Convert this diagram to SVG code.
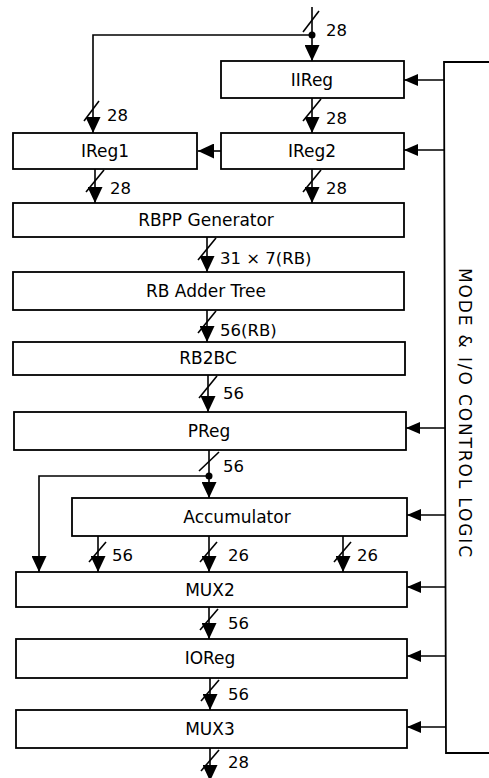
<svg xmlns="http://www.w3.org/2000/svg" width="489" height="778" viewBox="0 0 489 778">
<style>
.box{fill:#fff;stroke:#000;stroke-width:1.8}
.bt{font-family:"DejaVu Sans",sans-serif;font-size:17px;text-anchor:middle;fill:#000}
.lb{font-family:"DejaVu Sans",sans-serif;font-size:16.5px;fill:#000}
.ln{fill:none;stroke:#000;stroke-width:1.6}
.dn{fill:none;stroke:#000;stroke-width:1.6;marker-end:url(#ad)}
.ct{fill:none;stroke:#000;stroke-width:1.6;marker-end:url(#ac)}
.sl{stroke:#000;stroke-width:1.6}
</style>
<defs>
<marker id="ad" markerUnits="userSpaceOnUse" markerWidth="16" markerHeight="15" viewBox="0 -7.5 16 15" refX="16" refY="0" orient="auto">
<path d="M0,-7.5 L16,0 L0,7.5 z" fill="#000"/>
</marker>
<marker id="ac" markerUnits="userSpaceOnUse" markerWidth="14" markerHeight="12" viewBox="0 -6 14 12" refX="14" refY="0" orient="auto">
<path d="M0,-6 L14,0 L0,6 z" fill="#000"/>
</marker>
</defs>
<rect width="489" height="778" fill="#fff"/>

<g id="connectors">
<!-- top input -->
<line class="dn" x1="312" y1="7" x2="312" y2="61"/>
<line class="sl" x1="303" y1="32" x2="319" y2="11"/>
<circle cx="312" cy="35" r="3.5" fill="#000"/>
<text class="lb" x="326" y="36">28</text>
<path class="dn" d="M312,35 H93 V133"/>
<line class="sl" x1="84" y1="121" x2="99" y2="101"/>
<text class="lb" x="107" y="121">28</text>
<!-- IIReg -> IReg2 -->
<line class="dn" x1="312" y1="98" x2="312" y2="133"/>
<line class="sl" x1="303" y1="121" x2="321" y2="99"/>
<text class="lb" x="326" y="124">28</text>
<!-- IReg2 -> IReg1 -->
<line class="dn" x1="221" y1="151" x2="198" y2="151"/>
<!-- IReg1 -> RBPP -->
<line class="dn" x1="95" y1="169" x2="95" y2="203"/>
<line class="sl" x1="86" y1="192" x2="104" y2="170"/>
<text class="lb" x="110" y="194">28</text>
<!-- IReg2 -> RBPP -->
<line class="dn" x1="312" y1="169" x2="312" y2="203"/>
<line class="sl" x1="303" y1="192" x2="321" y2="170"/>
<text class="lb" x="326" y="194">28</text>
<!-- RBPP -> RB Adder -->
<line class="dn" x1="207" y1="237" x2="207" y2="272"/>
<line class="sl" x1="198" y1="260" x2="216" y2="238"/>
<text class="lb" x="220" y="264">31 × 7(RB)</text>
<!-- RB Adder -> RB2BC -->
<line class="dn" x1="207" y1="310" x2="207" y2="342"/>
<line class="sl" x1="198" y1="333" x2="216" y2="311"/>
<text class="lb" x="220" y="336">56(RB)</text>
<!-- RB2BC -> PReg -->
<line class="dn" x1="208" y1="375" x2="208" y2="412"/>
<line class="sl" x1="199" y1="398" x2="217" y2="376"/>
<text class="lb" x="223" y="399">56</text>
<!-- PReg -> Accumulator -->
<line class="dn" x1="209" y1="450" x2="209" y2="498"/>
<line class="sl" x1="199" y1="471" x2="219" y2="452"/>
<circle cx="209" cy="476" r="3.5" fill="#000"/>
<text class="lb" x="223" y="472">56</text>
<path class="dn" d="M209,476 H39 V572"/>
<!-- Accumulator -> MUX2 -->
<line class="dn" x1="98" y1="536" x2="98" y2="572"/>
<line class="sl" x1="89" y1="562" x2="106" y2="542"/>
<text class="lb" x="112" y="561">56</text>
<line class="dn" x1="209" y1="536" x2="209" y2="572"/>
<line class="sl" x1="200" y1="562" x2="217" y2="542"/>
<text class="lb" x="228" y="561">26</text>
<line class="dn" x1="343" y1="536" x2="343" y2="572"/>
<line class="sl" x1="334" y1="562" x2="351" y2="542"/>
<text class="lb" x="357" y="561">26</text>
<!-- MUX2 -> IOReg -->
<line class="dn" x1="209" y1="607" x2="209" y2="639"/>
<line class="sl" x1="200" y1="630" x2="218" y2="609"/>
<text class="lb" x="228" y="629">56</text>
<!-- IOReg -> MUX3 -->
<line class="dn" x1="210" y1="678" x2="210" y2="710"/>
<line class="sl" x1="201" y1="701" x2="219" y2="680"/>
<text class="lb" x="228" y="700">56</text>
<!-- MUX3 out -->
<line class="dn" x1="210" y1="748" x2="210" y2="781"/>
<line class="sl" x1="201" y1="771" x2="219" y2="750"/>
<text class="lb" x="228" y="768">28</text>
<!-- control arrows -->
<line class="ct" x1="444" y1="80" x2="404" y2="80"/>
<line class="ct" x1="444" y1="150" x2="404" y2="150"/>
<line class="ct" x1="445" y1="428" x2="406" y2="428"/>
<line class="ct" x1="445" y1="515" x2="407" y2="515"/>
<line class="ct" x1="445" y1="587" x2="407" y2="587"/>
<line class="ct" x1="446" y1="656" x2="407" y2="656"/>
<line class="ct" x1="446" y1="727" x2="407" y2="727"/>
</g>

<g id="control">
<path d="M490,62 H444 L446,753 H490" fill="none" stroke="#000" stroke-width="1.8"/>
<text font-family="DejaVu Sans, sans-serif" font-size="17" fill="#000" text-anchor="middle" textLength="289" lengthAdjust="spacing" transform="translate(459,412.5) rotate(90)" x="0" y="0">MODE &amp; I/O CONTROL LOGIC</text>
</g>

<g id="IIReg"><rect class="box" x="221" y="61" width="183" height="37"/><text class="bt" x="312" y="86">IIReg</text></g>
<g id="IReg1"><rect class="box" x="13" y="133" width="184" height="36"/><text class="bt" x="105" y="157">IReg1</text></g>
<g id="IReg2"><rect class="box" x="221" y="133" width="183" height="36"/><text class="bt" x="312" y="157">IReg2</text></g>
<g id="RBPP"><rect class="box" x="13" y="203" width="391" height="34"/><text class="bt" x="206" y="226">RBPP Generator</text></g>
<g id="RBAdder"><rect class="box" x="13" y="272" width="391" height="38"/><text class="bt" x="206" y="297">RB Adder Tree</text></g>
<g id="RB2BC"><rect class="box" x="13" y="342" width="392" height="33"/><text class="bt" x="208" y="364">RB2BC</text></g>
<g id="PReg"><rect class="box" x="14" y="412" width="392" height="38"/><text class="bt" x="209" y="437">PReg</text></g>
<g id="Accumulator"><rect class="box" x="72" y="498" width="335" height="38"/><text class="bt" x="237" y="523">Accumulator</text></g>
<g id="MUX2"><rect class="box" x="16" y="572" width="391" height="35"/><text class="bt" x="210" y="596">MUX2</text></g>
<g id="IOReg"><rect class="box" x="16" y="639" width="391" height="39"/><text class="bt" x="210" y="664">IOReg</text></g>
<g id="MUX3"><rect class="box" x="16" y="710" width="391" height="38"/><text class="bt" x="210" y="735">MUX3</text></g>
</svg>
